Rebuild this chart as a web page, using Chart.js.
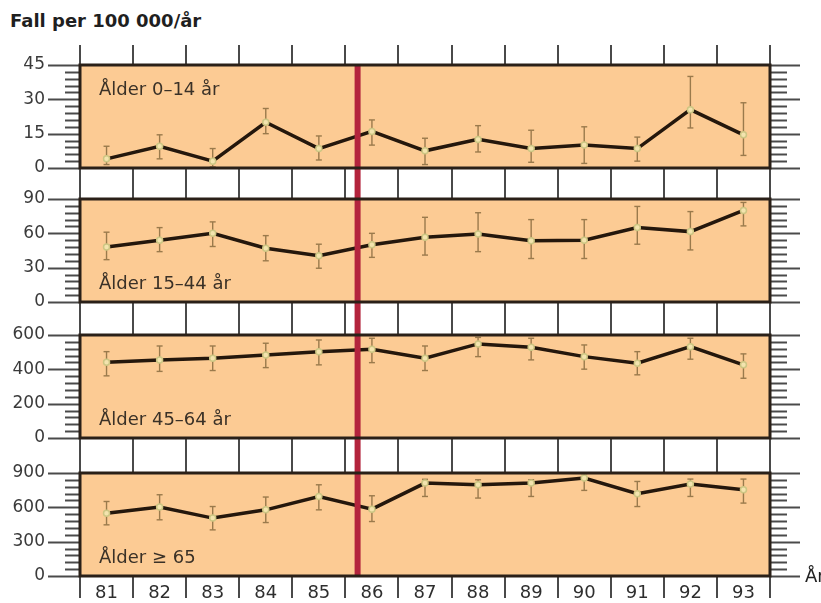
<!DOCTYPE html>
<html>
<head>
<meta charset="utf-8">
<script src="https://cdn.jsdelivr.net/npm/chart.js@4/dist/chart.umd.min.js"></script>
<style>
  html, body { margin: 0; padding: 0; background: #ffffff; }
  body { position: relative; width: 821px; height: 603px; overflow: hidden; }
  #title { position: absolute; left: 10px; top: 12px; font: bold 18px "DejaVu Sans", sans-serif; line-height: 18px; color: #1f1f1f; white-space: nowrap; }
  canvas { position: absolute; left: 0; }
</style>
</head>
<body>
<div id="title">Fall per 100 000/år</div>
<canvas id="p1" width="821" height="154" style="top:30px"></canvas>
<canvas id="p2" width="821" height="134" style="top:184px"></canvas>
<canvas id="p3" width="821" height="137" style="top:318px"></canvas>
<canvas id="p4" width="821" height="148" style="top:455px"></canvas>
<script>
// Years on the shared horizontal axis
const years = ['81', '82', '83', '84', '85', '86', '87', '88', '89', '90', '91', '92', '93'];

// Age 0–14: rate with lower/upper interval limits
const age0Rate = [4, 9.5, 3, 20, 8.5, 16, 7.5, 12.5, 8.5, 10, 8.5, 25.5, 14.5];
const age0Low  = [1.5, 4, 0.5, 15, 3.5, 10, 1.5, 7, 2.5, 2, 3, 17.5, 5.5];
const age0High = [9.5, 14.5, 8.5, 26, 14, 21, 13, 18.5, 16.5, 18, 13.5, 40, 28.5];

// Age 15–44
const age15Rate = [48, 54, 60, 47, 40.5, 50, 56.5, 59.5, 53.5, 54, 65, 61.5, 80];
const age15Low  = [37, 44, 48.5, 36, 29.5, 39, 41, 44, 38, 38, 50.5, 45.5, 66.5];
const age15High = [61, 65, 70, 58, 50.5, 60, 74, 78, 72, 72, 83.5, 79, 87];

// Age 45–64
const age45Rate = [441, 455, 465, 484, 503, 517, 465, 548, 528, 474, 436, 532, 426];
const age45Low  = [362, 388, 393, 410, 426, 439, 393, 474, 455, 401, 368, 459, 348];
const age45High = [503, 536, 536, 552, 571, 581, 536, 586, 581, 542, 503, 581, 490];

// Age 65 and over
const age65Rate = [549, 602, 506, 578, 695, 584, 812, 797, 812, 856, 719, 803, 754];
const age65Low  = [447, 491, 403, 467, 578, 476, 695, 681, 695, 748, 607, 695, 637];
const age65High = [651, 710, 607, 690, 797, 701, 845, 841, 841, 894, 826, 847, 847];

// Panel titles
const panelLabels = ['Ålder 0–14 år', 'Ålder 15–44 år', 'Ålder 45–64 år', 'Ålder ≥ 65'];

// Marker on the year axis (index units, spring 1986)
const markerPos = 4.73;

const FONT = '"DejaVu Sans", sans-serif';
const PANEL_BG = '#fccb94';
const FRAME = '#2a2018';
const TICK = '#4a4a4a';
const LINE = '#24170c';
const ERR = '#9a7a4c';
const MARKER = '#b3243d';
const TEXT = '#3a3127';

function strokeLine(ctx, x1, y1, x2, y2) {
  ctx.beginPath(); ctx.moveTo(x1, y1); ctx.lineTo(x2, y2); ctx.stroke();
}

function decoPlugin(cfg) {
  return {
    id: 'panelDeco',
    beforeDraw(chart) {
      const { ctx, chartArea: a, scales: { x, y } } = chart;
      ctx.save();
      ctx.fillStyle = PANEL_BG;
      ctx.fillRect(a.left, a.top, a.right - a.left, a.bottom - a.top);

      // year boundaries, continued into the spaces between panels
      ctx.strokeStyle = TICK; ctx.lineWidth = 2;
      const top0 = cfg.first ? a.top - 20 : 0;
      const bot1 = cfg.last ? a.bottom + 22 : chart.height;
      for (let i = 0; i <= years.length; i++) {
        const px = Math.round(x.getPixelForValue(i - 0.5));
        strokeLine(ctx, px, top0, px, a.top);
        strokeLine(ctx, px, a.bottom, px, bot1);
      }

      // value ticks on both sides, long at labelled values
      const n = Math.round(cfg.max / cfg.minor);
      for (let k = 0; k <= n; k++) {
        const v = k * cfg.minor;
        const py = Math.round(y.getPixelForValue(v)) + 0.5;
        const major = v % cfg.major === 0;
        ctx.lineWidth = 2;
        strokeLine(ctx, major ? 48 : 65, py, a.left, py);
        strokeLine(ctx, a.right, py, major ? 800 : 787, py);
      }
      ctx.restore();
    },
    beforeDatasetsDraw(chart) {
      const { ctx, chartArea: a, scales: { x, y } } = chart;
      ctx.save();
      // panel title
      ctx.fillStyle = TEXT;
      ctx.font = '18px ' + FONT;
      ctx.textBaseline = 'alphabetic';
      ctx.textAlign = 'left';
      ctx.fillText(cfg.label, a.left + 19, cfg.labelTop ? a.top + 30 : a.bottom - 13);

      // interval bars
      ctx.strokeStyle = ERR; ctx.lineWidth = 1.4;
      for (let i = 0; i < years.length; i++) {
        const px = x.getPixelForValue(i);
        const yl = y.getPixelForValue(cfg.low[i]);
        const yh = y.getPixelForValue(cfg.high[i]);
        strokeLine(ctx, px, yl, px, yh);
        strokeLine(ctx, px - 3, yl, px + 3, yl);
        strokeLine(ctx, px - 3, yh, px + 3, yh);
      }
      ctx.restore();
    },
    afterDatasetsDraw(chart) {
      const { ctx, chartArea: a, scales: { x } } = chart;
      ctx.save();
      // vertical marker line
      const mx = x.getPixelForValue(markerPos);
      ctx.strokeStyle = MARKER; ctx.lineWidth = 6;
      const t = cfg.first ? a.top : 0;
      const b = cfg.last ? a.bottom : chart.height;
      strokeLine(ctx, mx, t, mx, b);

      // panel frame
      ctx.strokeStyle = FRAME; ctx.lineWidth = 3;
      ctx.strokeRect(a.left, a.top, a.right - a.left, a.bottom - a.top);

      if (cfg.last) {
        ctx.fillStyle = '#222';
        ctx.font = '18px ' + FONT;
        ctx.textBaseline = 'middle';
        ctx.textAlign = 'left';
        ctx.fillText('År', 805, a.bottom + 1);
      }
      ctx.restore();
    }
  };
}

function makePanel(id, cfg) {
  new Chart(document.getElementById(id), {
    type: 'line',
    data: {
      labels: years,
      datasets: [{
        data: cfg.rate,
        borderColor: LINE,
        borderWidth: 3.5,
        pointRadius: 3,
        pointBorderWidth: 1.5,
        pointBorderColor: '#cdc683',
        pointBackgroundColor: '#f3e4ae',
        tension: 0,
        clip: false
      }]
    },
    options: {
      responsive: false,
      animation: false,
      events: [],
      layout: { padding: { top: cfg.padTop, bottom: cfg.padBottom, left: 0, right: 51 } },
      plugins: { legend: { display: false }, tooltip: { enabled: false } },
      scales: {
        x: {
          type: 'category',
          offset: true,
          display: !!cfg.last,
          grid: { display: false, drawTicks: false },
          border: { display: false },
          ticks: { color: '#2e2e2e', font: { family: FONT, size: 18 }, padding: 7, maxRotation: 0, autoSkip: false },
          afterFit(s) { if (cfg.last) s.height = 27; }
        },
        y: {
          min: 0,
          max: cfg.max,
          grid: { display: false, drawTicks: true, tickLength: 35 },
          border: { display: false },
          ticks: { stepSize: cfg.major, padding: 0, color: '#3a3a3a', font: { family: FONT, size: 17 } },
          afterFit(s) { s.width = 80; }
        }
      }
    },
    plugins: [decoPlugin(cfg)]
  });
}

makePanel('p1', { rate: age0Rate, low: age0Low, high: age0High, max: 45, major: 15, minor: 3,
  label: panelLabels[0], labelTop: true, first: true, padTop: 35, padBottom: 16 });
makePanel('p2', { rate: age15Rate, low: age15Low, high: age15High, max: 90, major: 30, minor: 6,
  label: panelLabels[1], padTop: 15, padBottom: 16 });
makePanel('p3', { rate: age45Rate, low: age45Low, high: age45High, max: 600, major: 200, minor: 40,
  label: panelLabels[2], padTop: 17, padBottom: 17 });
makePanel('p4', { rate: age65Rate, low: age65Low, high: age65High, max: 900, major: 300, minor: 60,
  label: panelLabels[3], last: true, padTop: 18, padBottom: 0 });
</script>
</body>
</html>
